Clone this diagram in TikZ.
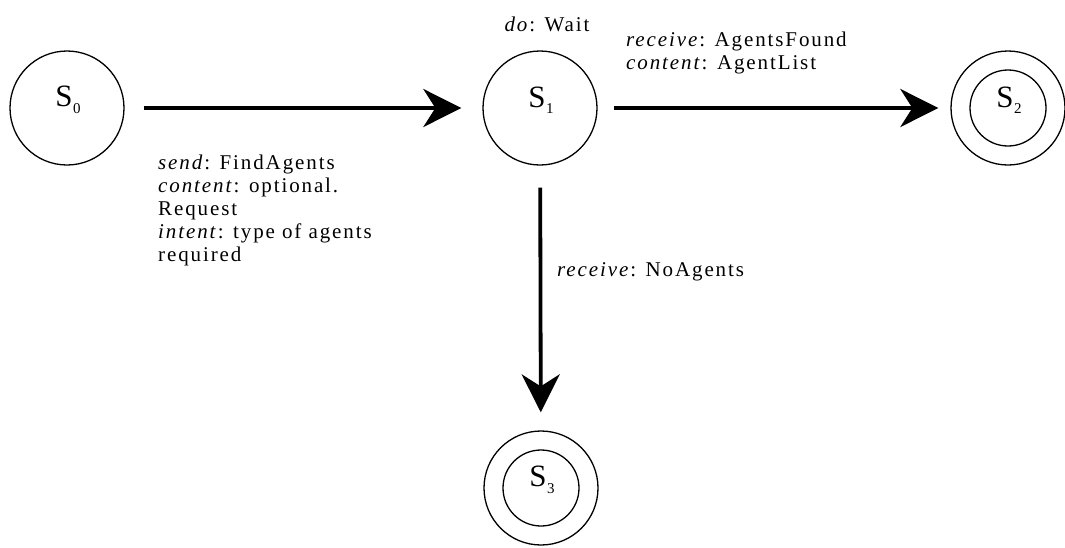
\documentclass[tikz,border=0pt]{standalone}
\usepackage{fontspec}
\setmainfont{Liberation Serif}
\usetikzlibrary{arrows.meta}
\newcommand{\stsub}[1]{\kern0.5pt\raisebox{-0.45ex}{\fontsize{15}{15}\selectfont #1}}
\begin{document}
\begin{tikzpicture}[x=1pt,y=-1pt,
  state/.style={circle,draw,line width=1.3pt,minimum size=114pt,inner sep=0pt},
  inner/.style={circle,draw,line width=1.3pt,minimum size=76pt,inner sep=0pt},
  statename/.style={font=\fontsize{31}{31}\selectfont,inner sep=0pt},
  trans/.style={line width=3.8pt,-{Stealth[length=38pt,width=38pt,inset=12pt]}},
  note/.style={font=\fontsize{21}{23}\selectfont\addfontfeatures{LetterSpace=9},align=left,inner sep=0pt}]
  \useasboundingbox (0,0) rectangle (1065,547);
  % states
  \node[state] (S0) at (67,108) {};
  \node[state] (S1) at (540,108) {};
  \node[state] (S2) at (1008,108) {};
  \node[inner] (S2i) at (S2) {};
  \node[state] (S3) at (541,488) {};
  \node[inner] (S3i) at (S3) {};
  % state names
  \node[statename] (n0) at (68,100) {S\stsub{0}};
  \node[statename] (n1) at (541,100) {S\stsub{1}};
  \node[statename] (n2) at (1009,100) {S\stsub{2}};
  \node[statename] (n3) at (542,480) {S\stsub{3}};
  % transitions
  \draw[trans,shorten <=19pt,shorten >=21pt] (S0) -- (S1);
  \draw[trans,shorten <=16pt,shorten >=12pt] (S1) -- (S2);
  \draw[trans,shorten <=22pt,shorten >=18pt] (S1) -- (S3);
  % annotations
  \node[note] (dowait) at (547,24) {\textit{do}: Wait};
  \node[note,anchor=west] (recv) at (626,53) {\textit{receive}: AgentsFound\\\textit{content}: AgentList};
  \node[note,anchor=north west] (send) at (158,155) {\textit{send}: FindAgents\\\textit{content}: optional.\\Request\\\textit{intent}: type of agents\\required};
  \node[note,anchor=west] (noag) at (557,272) {\textit{receive}: NoAgents};
\end{tikzpicture}
\end{document}
